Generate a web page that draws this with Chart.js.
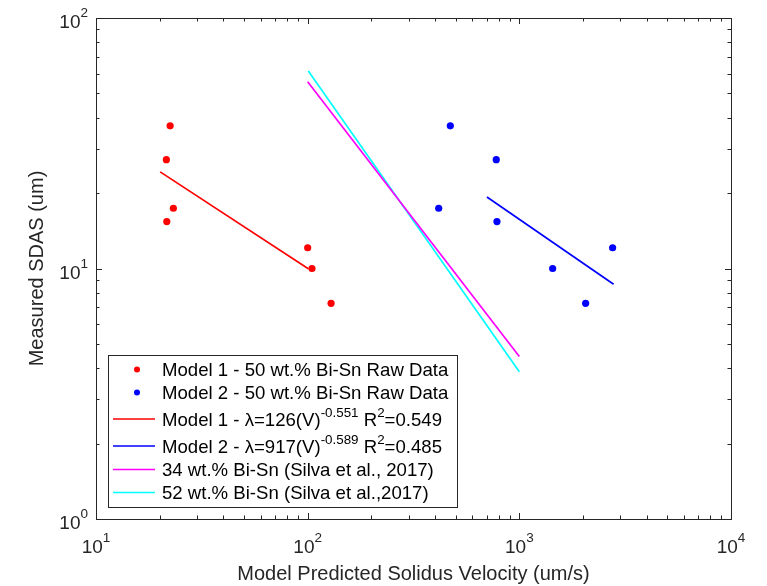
<!DOCTYPE html>
<html><head><meta charset="utf-8">
<script src="https://cdn.jsdelivr.net/npm/chart.js@4.4.0/dist/chart.umd.min.js"></script>
<style>html,body{margin:0;padding:0;background:#fff;}#wrap{width:767px;height:586px;}</style>
</head><body><div id="wrap"><canvas id="c" width="767" height="586"></canvas></div>
<script>
// ---- data ----
const model1X = [22.4, 21.5, 23.2, 21.6, 100, 104.8, 129];
const model1Y = [37.1, 27.2, 17.4, 15.4, 12.1, 10.0, 7.26];
const model2X = [472, 778, 416, 784, 2759, 1437, 2057];
const model2Y = [37.1, 27.2, 17.4, 15.4, 12.1, 10.0, 7.26];
const fit1X = [20.1, 100.7];
const fit1Y = [24.3, 9.98];
const fit2X = [703, 2789];
const fit2Y = [19.3, 8.65];
const silva34X = [100, 1000];
const silva34Y = [55.7, 4.45];
const silva52X = [100.7, 1000];
const silva52Y = [61.4, 3.87];

const xTickValues = [10, 100, 1000, 10000];
const xTickExp = ['1', '2', '3', '4'];
const yTickValues = [1, 10, 100];
const yTickExp = ['0', '1', '2'];
const xTitle = 'Model Predicted Solidus Velocity (um/s)';
const yTitle = 'Measured SDAS (um)';
const legendLabels = [
  'Model 1 - 50 wt.% Bi-Sn Raw Data',
  'Model 2 - 50 wt.% Bi-Sn Raw Data',
  'Model 1 - \u03bb=126(V)^{-0.551} R^{2}=0.549',
  'Model 2 - \u03bb=917(V)^{-0.589} R^{2}=0.485',
  '34 wt.% Bi-Sn (Silva et al., 2017)',
  '52 wt.% Bi-Sn (Silva et al.,2017)'
];

const pts = (xs, ys) => xs.map((x, i) => ({x: x, y: ys[i]}));
const FONT = '"Liberation Sans", Arial, Helvetica, sans-serif';
const AX = '#262626';

function drawRich(ctx, text, x, y, size) {
  const parts = text.split(/(\^\{[^}]*\})/);
  let cx = x;
  parts.forEach(p => {
    if (!p) return;
    if (p.startsWith('^{')) {
      const s = p.slice(2, -1);
      ctx.font = (size * 0.72) + 'px ' + FONT;
      ctx.fillText(s, cx, y - size * 0.45);
      cx += ctx.measureText(s).width;
    } else {
      ctx.font = size + 'px ' + FONT;
      ctx.fillText(p, cx, y);
      cx += ctx.measureText(p).width;
    }
  });
}

const axesPlugin = {
  id: 'matlabAxes',
  afterDatasetsDraw(chart) {
    const ctx = chart.ctx, a = chart.chartArea;
    const xs = chart.scales.x, ys = chart.scales.y;
    ctx.save();
    ctx.strokeStyle = AX;
    ctx.lineWidth = 1;
    const ticks = (min, max) => {
      const out = [];
      for (let d = min; d < max; d *= 10) {
        for (let m = 1; m < 10; m++) out.push({v: d * m, major: m === 1});
      }
      out.push({v: max, major: true});
      return out;
    };
    ctx.beginPath();
    ticks(10, 10000).forEach(t => {
      const px = Math.round(xs.getPixelForValue(t.v)) + 0.5;
      const L = t.major ? 6 : 3.5;
      ctx.moveTo(px, a.bottom); ctx.lineTo(px, a.bottom - L);
      ctx.moveTo(px, a.top); ctx.lineTo(px, a.top + L);
    });
    ticks(1, 100).forEach(t => {
      const py = Math.round(ys.getPixelForValue(t.v)) + 0.5;
      const L = t.major ? 6 : 3.5;
      ctx.moveTo(a.left, py); ctx.lineTo(a.left + L, py);
      ctx.moveTo(a.right, py); ctx.lineTo(a.right - L, py);
    });
    ctx.stroke();
    ctx.strokeRect(Math.round(a.left) + 0.5, Math.round(a.top) + 0.5,
      Math.round(a.right - a.left), Math.round(a.bottom - a.top));

    ctx.fillStyle = AX;
    ctx.textBaseline = 'alphabetic';
    ctx.textAlign = 'left';
    const base = 19, ex = 13.5;
    xTickValues.forEach((v, i) => {
      const px = xs.getPixelForValue(v);
      ctx.font = base + 'px ' + FONT;
      const w1 = ctx.measureText('10').width;
      ctx.font = ex + 'px ' + FONT;
      const w2 = ctx.measureText(xTickExp[i]).width;
      const sx = px - (w1 + w2) / 2;
      ctx.font = base + 'px ' + FONT;
      ctx.fillText('10', sx, a.bottom + 34);
      ctx.font = ex + 'px ' + FONT;
      ctx.fillText(xTickExp[i], sx + w1, a.bottom + 23);
    });
    yTickValues.forEach((v, i) => {
      const py = ys.getPixelForValue(v);
      ctx.font = ex + 'px ' + FONT;
      const w2 = ctx.measureText(yTickExp[i]).width;
      ctx.font = base + 'px ' + FONT;
      const w1 = ctx.measureText('10').width;
      const ex0 = a.left - 8 - w2;
      ctx.fillText('10', ex0 - w1, py + 10);
      ctx.font = ex + 'px ' + FONT;
      ctx.fillText(yTickExp[i], ex0, py - 1);
    });

    // legend
    const lx = a.left + 12, lw = 349;
    const rowH = [23, 23, 27, 27, 23, 23];
    const lh = 6 + rowH.reduce((s, h) => s + h, 0);
    const ly = a.bottom - 12 - lh;
    ctx.fillStyle = '#fff';
    ctx.fillRect(lx, ly, lw, lh);
    ctx.strokeStyle = AX;
    ctx.strokeRect(Math.round(lx) + 0.5, Math.round(ly) + 0.5, lw, lh);
    let yy = ly + 3;
    chart.data.datasets.forEach((ds, i) => {
      const cy = yy + rowH[i] / 2;
      const isSup = legendLabels[i].indexOf('^{') >= 0;
      const cyl = cy + (isSup ? 1.5 : 0);
      if (ds.showLine) {
        ctx.strokeStyle = ds.borderColor;
        ctx.lineWidth = 1.6;
        ctx.beginPath();
        ctx.moveTo(lx + 5, cyl); ctx.lineTo(lx + 47, cyl);
        ctx.stroke();
      } else {
        ctx.fillStyle = ds.backgroundColor;
        ctx.beginPath();
        ctx.arc(lx + 29, cy, 3, 0, Math.PI * 2);
        ctx.fill();
      }
      ctx.fillStyle = '#000';
      drawRich(ctx, legendLabels[i], lx + 54, cyl + 6.5, 18.6);
      yy += rowH[i];
    });
    ctx.restore();
  }
};

new Chart(document.getElementById('c'), {
  type: 'scatter',
  data: {
    datasets: [
      {label: legendLabels[0], data: pts(model1X, model1Y), backgroundColor: '#ff0000', borderColor: '#ff0000', pointRadius: 3.6, pointBorderWidth: 0, showLine: false},
      {label: legendLabels[1], data: pts(model2X, model2Y), backgroundColor: '#0000ff', borderColor: '#0000ff', pointRadius: 3.6, pointBorderWidth: 0, showLine: false},
      {label: legendLabels[2], data: pts(fit1X, fit1Y), borderColor: '#ff0000', backgroundColor: '#ff0000', showLine: true, pointRadius: 0, borderWidth: 1.7},
      {label: legendLabels[3], data: pts(fit2X, fit2Y), borderColor: '#0000ff', backgroundColor: '#0000ff', showLine: true, pointRadius: 0, borderWidth: 1.7},
      {label: legendLabels[4], data: pts(silva34X, silva34Y), borderColor: '#ff00ff', backgroundColor: '#ff00ff', showLine: true, pointRadius: 0, borderWidth: 1.7},
      {label: legendLabels[5], data: pts(silva52X, silva52Y), borderColor: '#00ffff', backgroundColor: '#00ffff', showLine: true, pointRadius: 0, borderWidth: 1.7}
    ]
  },
  options: {
    responsive: false,
    animation: false,
    devicePixelRatio: 1,
    layout: {padding: {top: 18, right: 36, left: 0, bottom: 0}},
    plugins: {legend: {display: false}, tooltip: {enabled: false}},
    scales: {
      x: {
        type: 'logarithmic', min: 10, max: 10000,
        grid: {display: false}, border: {display: false},
        ticks: {display: false},
        title: {display: true, text: xTitle, color: AX, font: {family: FONT, size: 20}, padding: {top: 0, bottom: 0}},
        afterFit(s) { s.height = 67; }
      },
      y: {
        type: 'logarithmic', min: 1, max: 100,
        grid: {display: false}, border: {display: false},
        ticks: {display: false},
        title: {display: true, text: yTitle, color: AX, font: {family: FONT, size: 20}, padding: {top: 25, bottom: 0}},
        afterFit(s) { s.width = 96; }
      }
    }
  },
  plugins: [axesPlugin]
});
</script></body></html>
